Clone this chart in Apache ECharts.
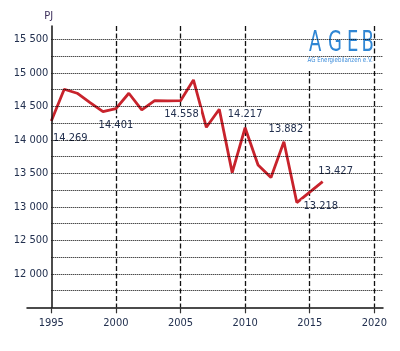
<!DOCTYPE html>
<html>
<head>
<meta charset="utf-8">
<script src="https://cdn.jsdelivr.net/npm/echarts@6/dist/echarts.min.js"></script>
<style>
html,body{margin:0;padding:0;background:#fff;}
#chart{width:400px;height:351px;}
</style>
</head>
<body>
<div id="chart"></div>
<script>
// ---- data ----
const years = [1995,1996,1997,1998,1999,2000,2001,2002,2003,2004,2005,2006,2007,2008,2009,2010,2011,2012,2013,2014,2015,2016];
const values = [14280,14754,14695,14554,14420,14465,14695,14446,14584,14580,14584,14893,14187,14456,13510,14180,13625,13436,13970,13063,13220,13376];
const valueLabels = ['14.269',null,null,null,null,'14.401',null,null,null,null,'14.558',null,null,null,null,'14.217',null,null,'13.882',null,'13.218','13.427'];
const xTicks = [1995,2000,2005,2010,2015,2020];
const yTickValues = [12000,12500,13000,13500,14000,14500,15000,15500];
const yUnit = 'PJ';
const logoLetters = ['A','G','E','B'];
const logoSub = 'AG Energiebilanzen e.V.';

// ---- styling ----
const FONT = '"Liberation Sans Narrow","DejaVu Sans Condensed","Arial Narrow",sans-serif';
const TXT = '#22304f';
const labelOffsets = {1995:[19,17],2000:[0,16],2005:[1,13],2010:[0,-14],2013:[2,-13],2015:[11,14],2016:[13,-10]};
const logoLetterX = [309,328,347,361.5];

const seriesData = years.map((y,i) => {
  const item = {value:[y, values[i]]};
  if (valueLabels[i]) {
    item.label = {
      show:true, position:'inside', offset: labelOffsets[y] || [0,0],
      formatter: valueLabels[i], color: TXT, fontFamily: FONT, fontSize: 11,
      backgroundColor:'#fff', padding:[1,2]
    };
  }
  return item;
});

const fmtThousands = v => String(v).replace(/\B(?=(\d{3})+(?!\d))/g, ' ');

const chart = echarts.init(document.getElementById('chart'), null, {renderer:'canvas'});
const gridTop = 25.9, gridBottom = 43.7;
chart.setOption({
  animation:false,
  backgroundColor:'#fff',
  grid:[
    {left:51.3, right:17, top:gridTop, bottom:gridBottom, containLabel:false},
    {left:27, right:17, top:gridTop, bottom:gridBottom, containLabel:false}
  ],
  xAxis:[
    {
      type:'value', gridIndex:0, min:1995, max:2020.67, interval:5,
      axisLine:{show:false},
      axisTick:{show:true, length:6, lineStyle:{color:'#333', width:1.2}, customValues: xTicks},
      axisLabel:{show:true, margin:10, color:TXT, fontFamily:FONT, fontSize:11, customValues: xTicks,
        formatter: v => String(Math.round(v))},
      splitLine:{show:true, showMinLine:false, showMaxLine:true,
        lineStyle:{color:'#111', width:1.3, type:[5,2.5]}}
    },
    {
      type:'value', gridIndex:1, min:0, max:1,
      axisLine:{show:true, lineStyle:{color:'#111', width:1.5}},
      axisTick:{show:false}, axisLabel:{show:false}, splitLine:{show:false}
    }
  ],
  yAxis:[
    {
      type:'value', gridIndex:0, min:11500, max:15700, interval:250, z:20,
      name: yUnit, nameLocation:'end', nameGap:4,
      nameTextStyle:{color:'#3b2d5a', fontFamily:FONT, fontSize:11, padding:[0,5,0,0]},
      axisLine:{show:true, onZero:false, lineStyle:{color:'#111', width:1.5}},
      axisTick:{show:false},
      axisLabel:{show:true, margin:3, color:TXT, fontFamily:FONT, fontSize:11, showMaxLabel:false,
        formatter: v => yTickValues.indexOf(v) >= 0 ? fmtThousands(v) : ''},
      splitLine:{show:true, showMinLine:false, showMaxLine:false,
        lineStyle:{color:'#000', width:1, type:[1,1]}}
    },
    {type:'value', gridIndex:1, min:0, max:1, show:false}
  ],
  series:[{
    type:'line', xAxisIndex:0, yAxisIndex:0,
    data: seriesData,
    showSymbol:true, symbol:'circle', symbolSize:0,
    lineStyle:{color:'#c8232c', width:2.8},
    itemStyle:{color:'#c8232c'},
    z:5
  }],
  graphic:[
    {type:'rect', z:10, shape:{x:293, y:24, width:79, height:45}, style:{fill:'#fff'}},
  ].concat(logoLetters.map((ch,i) => ({
    type:'text', z:11, x:logoLetterX[i], y:43.5, scaleY:1.4,
    style:{text: ch, fill:'#2f86d4', font:'20px ' + FONT, textVerticalAlign:'middle', textAlign:'left'}
  }))).concat([
    {type:'text', z:11, x:307.5, y:60, scaleY:1.15, style:{text: logoSub, fill:'#3d8ddb', font:'6.1px ' + FONT, textVerticalAlign:'middle', textAlign:'left'}}
  ])
});
</script>
</body>
</html>
